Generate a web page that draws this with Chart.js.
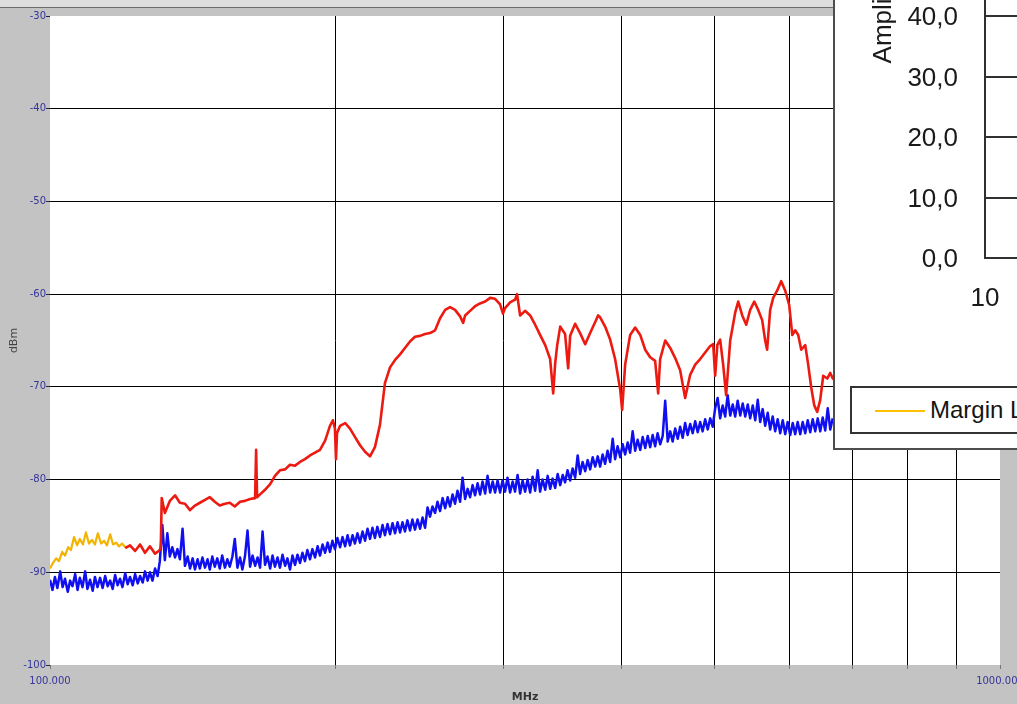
<!DOCTYPE html>
<html>
<head>
<meta charset="utf-8">
<title>Spectrum scan 100 MHz – 1 GHz</title>
<script src="https://cdn.jsdelivr.net/npm/chart.js@4.4.1/dist/chart.umd.min.js"></script>
<style>
  html, body { margin: 0; padding: 0; }
  body { width: 1017px; height: 704px; overflow: hidden; background: #c3c3c3; position: relative; font-family: "DejaVu Sans", sans-serif; }
  #titlebar { position: absolute; left: 0; top: 0; width: 833px; height: 7px; background: #dedede; border-bottom: 1px solid #6c6c6c; z-index: 2; }
  #spectrum { position: absolute; left: 0; top: 0; z-index: 1; }
  #inset { position: absolute; left: 833px; top: 0; width: 184px; height: 450px; background: #fff;
           border-left: 2px solid #4d4d4d; border-bottom: 2px solid #4d4d4d; box-sizing: border-box; overflow: hidden; z-index: 3; }
  #insetPlot { position: absolute; left: 0; top: -400px; width: 700px; height: 718px; }
  #insetLegend { position: absolute; left: 15px; top: 386px; width: 320px; height: 48px; border: 2px solid #333; box-sizing: border-box; }
  #insetLegend .swatch { position: absolute; left: 23px; top: 22px; width: 50px; height: 2px; background: #ffc000; }
  #insetLegend .label { position: absolute; left: 78px; top: 10px; font: 24px/24px "Liberation Sans", Arial, sans-serif; color: #151515; white-space: nowrap; }
</style>
</head>
<body>
<div id="titlebar"></div>
<canvas id="spectrum" width="1017" height="704"></canvas>
<div id="inset">
  <div id="insetPlot"><canvas id="insetChart" width="700" height="718"></canvas></div>
  <div id="insetLegend"><span class="swatch"></span><span class="label">Margin Limit</span></div>
</div>
<script>
// ---- Axis ticks ----
const xGridMHz = [100, 200, 300, 400, 500, 600, 700, 800, 900, 1000];
const xLabelledMHz = [100, 1000];
const xTickLabels = ['100.000', '1000.000'];
const yTickDbm = [-100, -90, -80, -70, -60, -50, -40, -30];

// ---- Limit line (start of sweep) ----
const yellowFreqMHz = [100.0, 100.7, 101.5, 102.2, 103.0, 103.7, 104.5, 105.2, 106.0, 106.8,
  107.5, 108.3, 109.1, 109.9, 110.7, 111.5, 112.3, 113.2, 114.0, 114.8,
  115.7, 116.5, 117.4, 118.2, 119.1, 120.0];
const yellowLevelDbm = [-89.6, -89.0, -88.5, -88.8, -87.8, -88.2, -87.3, -87.6, -86.2, -87.1,
  -86.4, -87.0, -85.7, -86.9, -86.5, -87.0, -85.8, -86.9, -86.6, -87.1,
  -85.9, -87.0, -86.8, -87.2, -86.9, -87.3];

// ---- Peak trace ----
const redFreqMHz = [120.0, 121.4, 122.9, 124.4, 125.9, 127.4, 129.0, 130.5, 130.8, 131.1,
  132.1, 133.7, 135.4, 137.0, 138.7, 140.4, 142.1, 143.8, 145.6, 147.3,
  149.1, 150.9, 152.8, 154.6, 156.5, 158.5, 160.4, 162.4, 164.4, 164.8,
  165.2, 166.4, 168.4, 170.5, 172.5, 174.6, 176.8, 178.9, 181.1, 183.3,
  185.5, 187.8, 190.1, 192.4, 194.8, 197.1, 198.5, 199.5, 200.0, 200.5,
  202.0, 204.5, 206.9, 209.4, 212.0, 214.6, 217.2, 219.8, 222.5, 225.2,
  228.0, 230.8, 233.6, 236.4, 239.3, 242.2, 245.2, 248.2, 251.2, 254.3,
  257.4, 260.6, 263.7, 266.9, 270.2, 272.2, 273.5, 276.8, 280.2, 283.6,
  287.1, 290.6, 294.1, 297.7, 299.8, 301.3, 305.0, 308.7, 310.2, 312.5,
  316.3, 320.2, 324.1, 328.0, 332.1, 336.1, 338.6, 340.2, 341.9, 344.4,
  348.5, 351.1, 352.8, 357.1, 361.4, 365.9, 370.3, 374.9, 377.5, 379.4,
  384.0, 388.7, 393.4, 398.3, 400.2, 403.1, 408.0, 413.0, 418.1, 423.2,
  428.3, 433.5, 436.7, 438.8, 444.2, 449.6, 455.1, 460.6, 466.2, 471.9,
  477.7, 483.5, 489.4, 495.4, 499.0, 501.4, 504.0, 507.5, 511.2, 514.9,
  520.0, 526.3, 530.2, 535.4, 540.6, 545.8, 551.2, 556.5, 561.9, 566.0,
  568.7, 572.9, 577.1, 582.8, 588.4, 594.1, 600.0, 604.4, 608.7, 613.2,
  617.7, 623.7, 628.2, 632.9, 637.5, 642.1, 646.8, 651.5, 657.9, 662.7,
  667.6];
const redLevelDbm = [-87.4, -87.1, -87.7, -87.0, -87.9, -87.2, -88.0, -87.6, -87.3, -82.0,
  -83.6, -82.3, -81.7, -82.5, -82.6, -83.3, -82.8, -82.5, -82.2, -81.9,
  -82.4, -82.8, -82.6, -82.5, -82.9, -82.4, -82.3, -82.1, -82.0, -76.8,
  -81.9, -81.6, -81.1, -80.5, -79.6, -79.0, -78.9, -78.4, -78.5, -78.1,
  -77.8, -77.4, -77.1, -76.8, -75.8, -74.2, -73.6, -74.5, -77.8, -75.0,
  -74.2, -73.9, -74.5, -75.4, -76.3, -77.0, -77.5, -76.5, -74.1, -69.6,
  -67.9, -67.1, -66.5, -65.8, -65.1, -64.6, -64.5, -64.3, -64.2, -63.9,
  -62.6, -61.7, -61.4, -61.7, -62.4, -63.1, -62.3, -61.8, -61.3, -61.0,
  -60.8, -60.4, -60.5, -61.1, -62.1, -61.5, -60.9, -60.6, -60.0, -62.3,
  -61.8, -62.3, -63.3, -64.4, -65.5, -67.0, -70.7, -67.5, -65.5, -63.5,
  -64.3, -68.0, -64.5, -63.2, -64.2, -65.4, -64.2, -63.0, -62.3, -62.5,
  -63.5, -64.9, -67.0, -70.3, -72.5, -67.6, -64.4, -63.6, -64.4, -66.0,
  -66.8, -67.2, -70.7, -67.0, -65.0, -65.8, -66.9, -68.2, -71.2, -68.7,
  -67.6, -67.0, -66.3, -65.6, -65.4, -68.8, -65.5, -64.9, -67.6, -70.9,
  -65.0, -62.0, -60.8, -62.3, -63.3, -61.7, -60.8, -61.7, -62.8, -65.0,
  -66.0, -61.7, -60.4, -59.6, -58.6, -59.6, -61.2, -64.4, -63.9, -64.4,
  -66.0, -65.5, -67.6, -70.1, -72.0, -72.7, -71.4, -68.8, -69.1, -68.5,
  -69.2];

// ---- Average trace (dense sweep, noisy floor) ----
const blueFreqMHz = [
  100.0, 100.6, 101.2, 101.8, 102.5, 103.1, 103.7, 104.4, 105.0, 105.6, 106.3, 106.9, 107.5, 108.2, 108.9, 109.5, 110.2, 110.9, 111.5, 112.2,
  112.9, 113.6, 114.3, 115.0, 115.7, 116.4, 117.1, 117.8, 118.5, 119.2, 120.0, 120.7, 121.4, 122.2, 122.9, 123.7, 124.4, 125.2, 125.9, 126.7,
  127.4, 128.2, 129.0, 129.8, 130.5, 131.3, 132.1, 132.9, 133.7, 134.5, 135.4, 136.2, 137.0, 137.9, 138.7, 139.6, 140.4, 141.3, 142.1, 143.0,
  143.8, 144.7, 145.6, 146.5, 147.3, 148.2, 149.1, 150.0, 150.9, 151.8, 152.8, 153.7, 154.6, 155.6, 156.5, 157.5, 158.5, 159.4, 160.4, 161.4,
  162.4, 163.4, 164.4, 165.4, 166.4, 167.4, 168.4, 169.4, 170.5, 171.5, 172.5, 173.6, 174.6, 175.7, 176.8, 177.8, 178.9, 180.0, 181.1, 182.2,
  183.3, 184.4, 185.5, 186.6, 187.8, 188.9, 190.1, 191.3, 192.4, 193.6, 194.8, 196.0, 197.1, 198.3, 199.5, 200.7, 202.0, 203.2, 204.5, 205.7,
  206.9, 208.2, 209.4, 210.7, 212.0, 213.3, 214.6, 215.9, 217.2, 218.5, 219.8, 221.1, 222.5, 223.9, 225.2, 226.6, 228.0, 229.4, 230.8, 232.2,
  233.6, 235.0, 236.4, 237.8, 239.3, 240.7, 242.2, 243.7, 245.2, 246.7, 248.2, 249.7, 251.2, 252.7, 254.3, 255.8, 257.4, 259.0, 260.6, 262.2,
  263.7, 265.3, 266.9, 268.5, 270.2, 271.8, 273.5, 275.2, 276.8, 278.5, 280.2, 281.9, 283.6, 285.3, 287.1, 288.8, 290.6, 292.4, 294.1, 295.9,
  297.7, 299.5, 301.3, 303.1, 305.0, 306.9, 308.7, 310.6, 312.5, 314.4, 316.3, 318.2, 320.2, 322.1, 324.1, 326.1, 328.0, 330.0, 332.1, 334.1,
  336.1, 338.1, 340.2, 342.3, 344.4, 346.5, 348.5, 350.6, 352.8, 354.9, 357.1, 359.3, 361.4, 363.6, 365.9, 368.1, 370.3, 372.6, 374.9, 377.2,
  379.4, 381.7, 384.0, 386.3, 388.7, 391.1, 393.4, 395.8, 398.3, 400.7, 403.1, 405.6, 408.0, 410.5, 413.0, 415.5, 418.1, 420.6, 423.2, 425.8,
  428.3, 430.9, 433.5, 436.1, 438.8, 441.5, 444.2, 446.9, 449.6, 452.3, 455.1, 457.9, 460.6, 463.4, 466.2, 469.0, 471.9, 474.8, 477.7, 480.6,
  483.5, 486.4, 489.4, 492.4, 495.4, 498.4, 501.4, 504.4, 507.5, 510.6, 513.7, 516.8, 520.0, 523.2, 526.3, 529.5, 532.8, 536.0, 539.3, 542.6,
  545.8, 549.2, 552.5, 555.9, 559.2, 562.6, 566.0, 569.5, 572.9, 576.4, 579.9, 583.4, 587.0, 590.6, 594.1, 597.7, 601.4, 605.1, 608.7, 612.4,
  616.2, 619.9, 623.7, 627.5, 631.3, 635.1, 639.0, 642.9, 646.8, 650.7, 654.7, 658.7, 662.7, 666.7];
const blueLevelDbm = [
  -90.8, -91.9, -90.5, -91.7, -89.9, -91.6, -90.7, -92.1, -90.9, -91.5, -90.2, -91.9, -90.6, -91.6, -89.9, -91.8, -90.8, -92.0, -90.5, -91.6,
  -90.6, -91.7, -90.4, -91.5, -90.9, -91.8, -90.3, -91.4, -90.7, -91.6, -90.1, -91.3, -90.5, -91.4, -90.2, -91.2, -90.4, -91.1, -89.9, -90.9,
  -90.0, -90.9, -89.6, -90.4, -88.8, -84.9, -88.7, -85.8, -88.3, -87.3, -88.4, -87.5, -88.6, -85.3, -89.3, -88.3, -89.6, -88.5, -89.7, -88.6,
  -89.6, -88.4, -89.5, -88.6, -89.7, -88.3, -89.4, -88.5, -89.6, -88.2, -89.5, -88.6, -89.4, -88.3, -86.4, -89.5, -88.4, -89.7, -88.3, -85.5,
  -89.4, -88.2, -89.3, -88.4, -89.5, -85.6, -89.2, -88.3, -89.6, -88.2, -89.4, -88.4, -89.5, -88.1, -89.3, -88.5, -89.7, -88.2, -89.2, -88.1,
  -89.0, -87.9, -88.8, -87.6, -88.6, -87.5, -88.4, -87.2, -88.2, -87.0, -87.9, -86.8, -87.8, -86.6, -87.5, -86.3, -87.3, -86.2, -87.2, -86.0,
  -87.1, -86.0, -86.9, -85.8, -86.8, -85.6, -86.6, -85.3, -86.4, -85.2, -86.3, -85.1, -86.2, -84.9, -86.0, -84.8, -85.9, -84.7, -85.8, -84.6,
  -85.7, -84.6, -85.6, -84.4, -85.5, -84.3, -85.4, -84.3, -85.3, -84.1, -85.2, -83.0, -84.0, -82.9, -83.6, -82.4, -83.4, -82.0, -83.1, -81.9,
  -82.9, -81.6, -82.6, -81.2, -82.4, -79.8, -82.1, -81.0, -81.9, -80.6, -81.7, -80.4, -81.6, -80.2, -81.5, -79.6, -81.4, -80.2, -81.4, -80.1,
  -81.4, -80.1, -81.3, -79.8, -81.4, -80.2, -81.3, -79.5, -81.5, -80.1, -81.3, -80.0, -81.4, -79.7, -81.2, -79.0, -81.3, -80.0, -81.1, -79.6,
  -81.0, -79.9, -80.9, -79.4, -80.6, -79.5, -80.3, -79.0, -80.1, -78.8, -79.8, -77.4, -79.4, -78.1, -79.1, -77.9, -78.9, -77.6, -78.6, -77.5,
  -78.6, -77.3, -78.3, -76.9, -78.1, -75.6, -77.8, -76.4, -77.6, -76.2, -77.3, -76.0, -77.1, -74.8, -76.9, -75.7, -76.8, -75.4, -76.6, -75.3,
  -76.5, -75.2, -76.4, -75.0, -76.2, -75.3, -71.5, -75.9, -74.8, -75.9, -74.5, -75.6, -74.3, -75.5, -73.9, -75.2, -74.0, -75.0, -73.7, -74.9,
  -73.8, -74.8, -73.5, -74.6, -73.4, -74.3, -72.3, -71.2, -73.4, -72.0, -73.2, -70.9, -73.1, -71.9, -73.2, -71.5, -73.1, -71.8, -73.2, -71.9,
  -73.4, -72.0, -73.6, -71.4, -73.8, -72.4, -74.2, -72.8, -74.6, -73.2, -74.8, -73.5, -75.0, -73.6, -75.1, -73.8, -75.2, -73.9, -75.1, -73.8,
  -75.1, -73.8, -75.0, -73.6, -74.9, -73.5, -74.8, -73.4, -74.8, -73.3, -74.7, -72.3, -74.6, -73.4];

// ---- Second window: amplitude axis ticks ----
const insetFreqTicks = [10, 100, 1000];
const insetLevelTicks = [0, 10, 20, 30, 40, 50, 60, 70, 80, 90, 100];

const toPoints = (xs, ys) => xs.map((x, i) => ({ x: x, y: ys[i] }));

// white plotting field inside the grey frame
const plotBackground = {
  id: 'plotBackground',
  beforeDraw(chart) {
    const { ctx, chartArea: a } = chart;
    ctx.save();
    ctx.fillStyle = '#ffffff';
    ctx.fillRect(a.left, a.top, a.right - a.left, a.bottom - a.top);
    ctx.restore();
  }
};

const edgeLine = (edges) => (c) => (c.tick && edges.includes(c.tick.value)) ? 'rgba(0,0,0,0)' : '#000000';

new Chart(document.getElementById('spectrum'), {
  type: 'line',
  data: {
    datasets: [
      { label: 'Peak', data: toPoints(redFreqMHz, redLevelDbm), borderColor: '#ec1a10', borderWidth: 2.6, order: 1 },
      { label: 'Margin Limit', data: toPoints(yellowFreqMHz, yellowLevelDbm), borderColor: '#f2b400', borderWidth: 2.2, order: 2 },
      { label: 'Average', data: toPoints(blueFreqMHz, blueLevelDbm), borderColor: '#0f0ff0', borderWidth: 2.5, order: 3 }
    ]
  },
  options: {
    responsive: false,
    animation: false,
    devicePixelRatio: 1,
    layout: { padding: { left: 0, top: 16, right: 17, bottom: 0 } },
    elements: { point: { radius: 0 }, line: { tension: 0, borderJoinStyle: 'round' } },
    plugins: { legend: { display: false }, tooltip: { enabled: false } },
    scales: {
      x: {
        type: 'logarithmic',
        min: 100,
        max: 1000,
        afterBuildTicks: (s) => { s.ticks = xGridMHz.map((v) => ({ value: v })); },
        afterFit: (s) => { s.height = 39; s.paddingLeft = 0; s.paddingRight = 0; },
        grid: { color: edgeLine([100, 1000]), lineWidth: 1, tickLength: 4, tickColor: '#777777' },
        border: { display: false },
        ticks: {
          autoSkip: false, maxRotation: 0, padding: 6, color: '#35359a',
          font: { family: 'DejaVu Sans', size: 10 },
          callback: (v) => { const i = xLabelledMHz.indexOf(v); return i >= 0 ? xTickLabels[i] : ''; }
        },
        title: { display: true, text: 'MHz', color: '#333333', font: { family: 'DejaVu Sans', size: 11, weight: 'bold' }, padding: { top: 0, bottom: 0 } }
      },
      y: {
        min: -100,
        max: -30,
        afterBuildTicks: (s) => { s.ticks = yTickDbm.map((v) => ({ value: v })); },
        afterFit: (s) => { s.width = 50; s.paddingTop = 0; s.paddingBottom = 0; },
        grid: { color: edgeLine([-100, -30]), lineWidth: 1, tickLength: 4, tickColor: '#22224a' },
        border: { display: false },
        ticks: { padding: 0, color: '#35359a', font: { family: 'DejaVu Sans', size: 10 } },
        title: { display: true, text: 'dBm', color: '#444444', font: { family: 'DejaVu Sans', size: 11 }, padding: { top: 8, bottom: 0 } }
      }
    }
  },
  plugins: [plotBackground]
});

// ---- second (overlapping) window with the amplitude chart ----
const darkInk = '#1a1a1a';
const insetFont = { family: 'Liberation Sans', size: 26 };
new Chart(document.getElementById('insetChart'), {
  type: 'line',
  data: { datasets: [{ label: 'Margin Limit', data: [], borderColor: '#ffc000', borderWidth: 2 }] },
  options: {
    responsive: false,
    animation: false,
    devicePixelRatio: 1,
    layout: { padding: { left: 0, top: 53, right: 0, bottom: 0 } },
    elements: { point: { radius: 0 } },
    plugins: { legend: { display: false }, tooltip: { enabled: false } },
    scales: {
      x: {
        type: 'logarithmic', min: 10, max: 1000,
        afterBuildTicks: (s) => { s.ticks = insetFreqTicks.map((v) => ({ value: v })); },
        afterFit: (s) => { s.height = 60; s.paddingLeft = 0; s.paddingRight = 0; },
        grid: { color: '#303030', lineWidth: 2, drawTicks: false },
        border: { color: '#303030', width: 2 },
        ticks: { autoSkip: false, maxRotation: 0, padding: 25, color: darkInk, font: insetFont, callback: (v) => String(v) }
      },
      y: {
        min: 0, max: 100,
        afterBuildTicks: (s) => { s.ticks = insetLevelTicks.map((v) => ({ value: v })); },
        afterFit: (s) => { s.width = 150; s.paddingTop = 0; s.paddingBottom = 0; },
        grid: { color: '#303030', lineWidth: 2, drawTicks: false },
        border: { color: '#303030', width: 2 },
        ticks: { padding: 27, labelOffset: 2, color: darkInk, font: insetFont, callback: (v) => v.toFixed(1).replace('.', ',') },
        title: { display: true, text: 'Amplitude dBµV/m', color: darkInk, font: insetFont, padding: { top: 33, bottom: 0 } }
      }
    }
  }
});
</script>
</body>
</html>
